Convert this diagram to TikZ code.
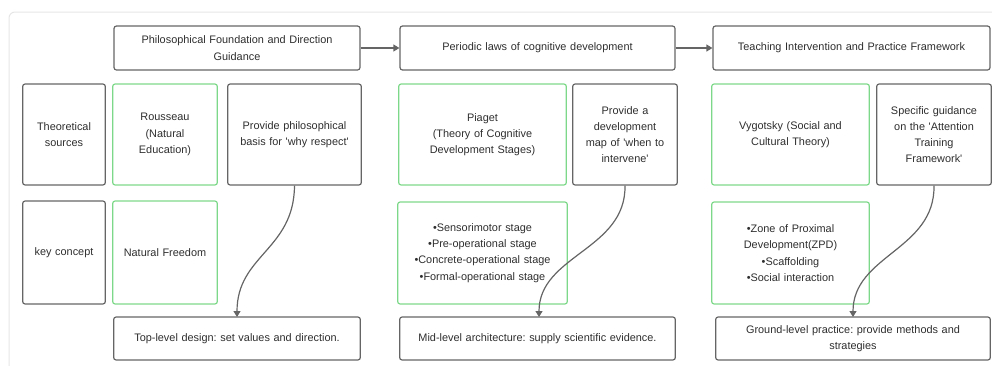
\documentclass[tikz,border=0pt]{standalone}
\usepackage{fontspec}
\setmainfont{Liberation Sans}
\usetikzlibrary{arrows.meta}
\frenchspacing
\newcommand{\sq}{\textquotesingle}
\definecolor{edgegray}{HTML}{656565}
\definecolor{leafgreen}{HTML}{7ED88A}
\definecolor{textgray}{HTML}{2E2E2E}
\definecolor{framegray}{HTML}{E6E6E6}
\tikzset{
  x=1pt, y=-1pt,
  card/.style={draw=edgegray, line width=1.2pt, rounded corners=2.5pt,
    text=textgray, font=\fontsize{10.9}{16.2}\selectfont, align=center},
  theory/.style={card, draw=leafgreen},
  flow/.style={draw=edgegray, line width=1.2pt, -{Triangle[length=6pt,width=7pt]}},
}
\begin{document}
\begin{tikzpicture}
\useasboundingbox (0,0) rectangle (992,365);
% surrounding panel
\draw[framegray, line width=1pt, rounded corners=6pt] (9,380) -- (9,12) -- (1000,12);

% column headers
\node[card, minimum width=246, minimum height=44, text width=236] (h1) at (237,48)
  {Philosophical Foundation and Direction\\Guidance};
\node[card, minimum width=275, minimum height=44, text width=265] (h2) at (537.5,48)
  {Periodic laws of cognitive development};
\node[card, minimum width=277, minimum height=44, text width=267] (h3) at (851.5,48)
  {Teaching Intervention and Practice Framework};

% row labels
\node[card, minimum width=80, minimum height=101, text width=76] (rs) at (64,134.5)
  {Theoretical\\sources};
\node[card, minimum width=80, minimum height=103, text width=76] (rk) at (64,252.5)
  {key concept};

% first column
\node[theory, minimum width=102, minimum height=101, text width=98] (rou) at (165,134.5)
  {Rousseau\\(Natural\\Education)};
\node[card, minimum width=131, minimum height=101, text width=127] (why) at (294.5,134.5)
  {Provide philosophical\\basis for \sq why respect\sq};
\node[theory, minimum width=102, minimum height=103, text width=98] (nat) at (165,252.5)
  {Natural Freedom};
\node[card, minimum width=246, minimum height=43, text width=240] (top) at (237,338.5)
  {Top-level design: set values and direction.};

% second column
\node[theory, minimum width=165, minimum height=101, text width=161] (pia) at (482.5,134.5)
  {Piaget\\(Theory of Cognitive\\Development Stages)};
\node[card, minimum width=100, minimum height=101, text width=98] (when) at (625,134.5)
  {Provide a\\development\\map of \sq when to\\intervene\sq};
\node[theory, minimum width=165, minimum height=102, text width=163] (stg) at (482.5,253)
  {•Sensorimotor stage\\•Pre-operational stage\\•Concrete-operational stage\\•Formal-operational stage};
\node[card, minimum width=275, minimum height=43, text width=269] (mid) at (537.5,338.5)
  {Mid-level architecture: supply scientific evidence.};

% third column
\node[theory, minimum width=155, minimum height=101, text width=151] (vyg) at (790.5,134.5)
  {Vygotsky (Social and\\Cultural Theory)};
\node[card, minimum width=112, minimum height=101, text width=108] (atf) at (934,134.5)
  {Specific guidance\\on the \sq Attention\\Training\\Framework\sq};
\node[theory, minimum width=155, minimum height=102, text width=151] (zpd) at (790.5,253)
  {•Zone of Proximal\\Development(ZPD)\\•Scaffolding\\•Social interaction};
\node[card, minimum width=274, minimum height=43, text width=268] (grd) at (853,338.5)
  {Ground-level practice: provide methods and\\strategies};

% header sequence
\draw[flow] (h1.east) -- (h2.west);
\draw[flow] (h2.east) -- (h3.west);

% guidance curves
\draw[flow] (why.south) .. controls (294,250) and (237,255) .. (237,317);
\draw[flow] (when.south) .. controls (626,250) and (539,255) .. (539,317);
\draw[flow] (atf.south) .. controls (935,250) and (853,255) .. (853,317);
\end{tikzpicture}
\end{document}
